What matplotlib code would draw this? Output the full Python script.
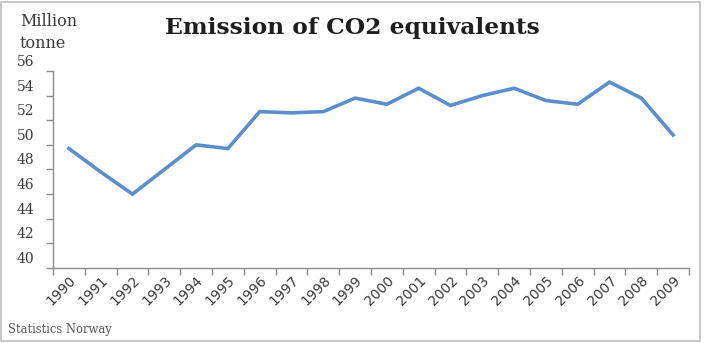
import numpy as np
import matplotlib
matplotlib.use("Agg")
import matplotlib.pyplot as plt
import matplotlib.transforms as mtransforms
from matplotlib.patches import Rectangle

# data
years = [str(y) for y in range(1990, 2010)]
emissions = [49.7, 47.8, 46.0, 48.0, 50.0, 49.7, 52.7, 52.6, 52.7, 53.8,
             53.3, 54.6, 53.2, 54.0, 54.6, 53.6, 53.3, 55.1, 53.8, 50.8]
y_ticks = [40, 42, 44, 46, 48, 50, 52, 54, 56]

line_color = "#5B8FCB"
text_color = "#3a3a3a"
axis_color = "#8c8c8c"
serif = ["DejaVu Serif"]

fig = plt.figure(figsize=(7.04, 3.43), dpi=100)
fig.patches.append(Rectangle((0.002, 0.006), 0.993, 0.988, transform=fig.transFigure,
                             fill=False, edgecolor="#bdbdbd", linewidth=1.2))

ax = fig.add_axes([0.0753, 0.2187, 0.9034, 0.5743])
x = np.arange(len(years))
ax.plot(x, emissions, color=line_color, linewidth=2.6, solid_joinstyle="miter")

ax.set_xlim(-0.5, len(years) - 0.5)
ax.set_ylim(40, 56)

# y axis: tick marks, labels drawn a bit above each tick like the original
ax.set_yticks(y_ticks)
ax.set_yticklabels([])
shift = mtransforms.ScaledTranslation(-19 / 100, 9 / 100, fig.dpi_scale_trans)
for v in y_ticks:
    ax.text(0, v, str(v), transform=ax.get_yaxis_transform() + shift,
            ha="right", va="center", fontsize=10, family=serif, color=text_color)

# x axis: tick marks between categories, labels at the centers
ax.set_xticks(np.arange(-0.5, len(years), 1.0))
ax.set_xticklabels([])
ax.set_xticks(x, minor=True)
ax.set_xticklabels(years, minor=True, rotation=45, ha="right", va="top",
                   rotation_mode="anchor", fontsize=10, color=text_color)
ax.tick_params(axis="x", which="minor", length=0, pad=4)
ax.tick_params(axis="both", which="major", length=5, width=1, color=axis_color)

for side in ["top", "right"]:
    ax.spines[side].set_visible(False)
for side in ["left", "bottom"]:
    ax.spines[side].set_color(axis_color)
    ax.spines[side].set_linewidth(1)

fig.text(0.5, 0.918, "Emission of CO2 equivalents", ha="center", va="center",
         fontsize=16.8, fontweight="bold", family=serif, color="#1e1e1e")
fig.text(0.028, 0.962, "Million\ntonne", ha="left", va="top", fontsize=11.5,
         family=serif, color=text_color, linespacing=1.4)
fig.text(0.012, 0.038, "Statistics Norway", ha="left", va="center", fontsize=8.3,
         family=serif, color="#555555")

fig.savefig("out.png", dpi=100)
